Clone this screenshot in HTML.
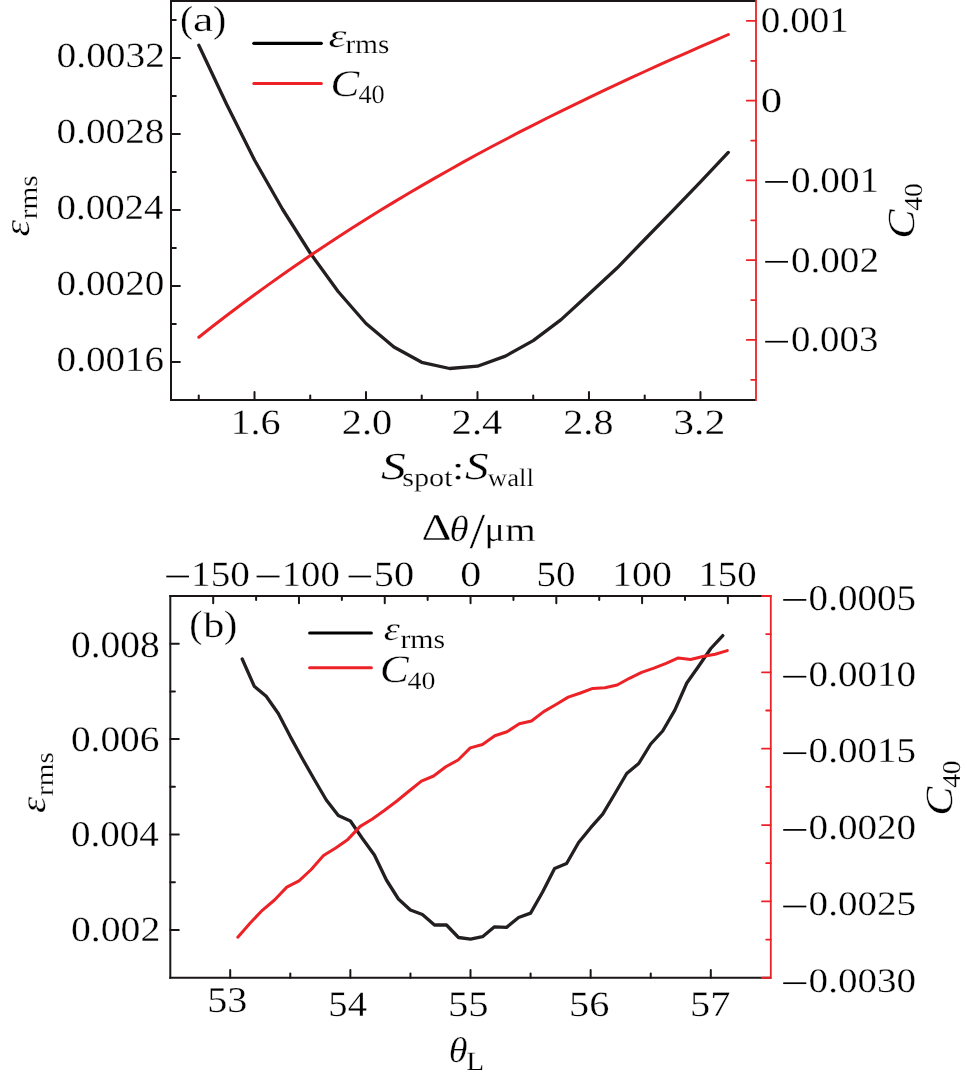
<!DOCTYPE html>
<html><head><meta charset="utf-8"><style>
html,body{margin:0;padding:0;background:#fff;}
svg{display:block;will-change:transform;}
text{font-family:"Liberation Serif",serif;font-size:100px;font-kerning:none;text-rendering:geometricPrecision;stroke:#fff;stroke-width:0.8px;vector-effect:non-scaling-stroke;}
</style></head><body>
<svg width="967" height="1078" viewBox="0 0 967 1078">
<rect width="967" height="1078" fill="#fff"/>
<path d="M198.8 45.2 L226.6 104.3 L254.5 160.0 L282.4 209.0 L310.2 253.0 L338.1 291.5 L366.0 323.5 L393.9 347.0 L421.7 362.3 L449.6 368.5 L477.5 366.2 L505.4 356.1 L533.2 340.6 L561.1 319.6 L589.0 294.0 L616.8 268.3 L644.7 239.5 L672.6 210.8 L700.5 181.8 L728.3 152.4" fill="none" stroke="#231f20" stroke-width="3.30" stroke-linejoin="round" stroke-linecap="round"/>
<path d="M198.8 337.2 L212.7 326.2 L226.7 315.5 L240.6 305.0 L254.5 294.7 L268.5 284.6 L282.4 274.8 L296.4 265.1 L310.3 255.5 L324.2 246.2 L338.2 237.1 L352.1 228.1 L366.0 219.3 L380.0 210.6 L393.9 202.1 L407.9 193.8 L421.8 185.6 L435.7 177.6 L449.7 169.7 L463.6 161.9 L477.5 154.3 L491.5 146.8 L505.4 139.5 L519.3 132.2 L533.3 125.1 L547.2 118.0 L561.2 111.1 L575.1 104.3 L589.0 97.6 L603.0 90.9 L616.9 84.4 L630.8 77.9 L644.8 71.5 L658.7 65.2 L672.7 58.9 L686.6 52.8 L700.5 46.6 L714.5 40.6 L728.4 34.5" fill="none" stroke="#ec2227" stroke-width="3.00" stroke-linejoin="round" stroke-linecap="round"/>
<line x1="170.00" y1="400.10" x2="756.00" y2="400.10" stroke="#1a1617" stroke-width="2.00" stroke-linecap="butt"/>
<line x1="170.00" y1="0.95" x2="756.00" y2="0.95" stroke="#1a1617" stroke-width="1.90" stroke-linecap="butt"/>
<line x1="171.00" y1="0.00" x2="171.00" y2="401.10" stroke="#1a1617" stroke-width="2.00" stroke-linecap="butt"/>
<line x1="756.00" y1="0.00" x2="756.00" y2="401.10" stroke="#ec2227" stroke-width="1.80" stroke-linecap="butt"/>
<line x1="171.00" y1="57.95" x2="179.90" y2="57.95" stroke="#1a1617" stroke-width="2.00" stroke-linecap="round"/>
<line x1="171.00" y1="133.95" x2="179.90" y2="133.95" stroke="#1a1617" stroke-width="2.00" stroke-linecap="round"/>
<line x1="171.00" y1="209.95" x2="179.90" y2="209.95" stroke="#1a1617" stroke-width="2.00" stroke-linecap="round"/>
<line x1="171.00" y1="285.95" x2="179.90" y2="285.95" stroke="#1a1617" stroke-width="2.00" stroke-linecap="round"/>
<line x1="171.00" y1="361.95" x2="179.90" y2="361.95" stroke="#1a1617" stroke-width="2.00" stroke-linecap="round"/>
<line x1="171.00" y1="19.95" x2="175.80" y2="19.95" stroke="#1a1617" stroke-width="2.00" stroke-linecap="round"/>
<line x1="171.00" y1="95.95" x2="175.80" y2="95.95" stroke="#1a1617" stroke-width="2.00" stroke-linecap="round"/>
<line x1="171.00" y1="171.95" x2="175.80" y2="171.95" stroke="#1a1617" stroke-width="2.00" stroke-linecap="round"/>
<line x1="171.00" y1="247.95" x2="175.80" y2="247.95" stroke="#1a1617" stroke-width="2.00" stroke-linecap="round"/>
<line x1="171.00" y1="323.95" x2="175.80" y2="323.95" stroke="#1a1617" stroke-width="2.00" stroke-linecap="round"/>
<line x1="746.80" y1="20.94" x2="756.00" y2="20.94" stroke="#ec2227" stroke-width="1.80" stroke-linecap="round"/>
<line x1="746.80" y1="100.69" x2="756.00" y2="100.69" stroke="#ec2227" stroke-width="1.80" stroke-linecap="round"/>
<line x1="746.80" y1="180.44" x2="756.00" y2="180.44" stroke="#ec2227" stroke-width="1.80" stroke-linecap="round"/>
<line x1="746.80" y1="260.19" x2="756.00" y2="260.19" stroke="#ec2227" stroke-width="1.80" stroke-linecap="round"/>
<line x1="746.80" y1="339.94" x2="756.00" y2="339.94" stroke="#ec2227" stroke-width="1.80" stroke-linecap="round"/>
<line x1="751.20" y1="60.82" x2="756.00" y2="60.82" stroke="#ec2227" stroke-width="1.80" stroke-linecap="round"/>
<line x1="751.20" y1="140.57" x2="756.00" y2="140.57" stroke="#ec2227" stroke-width="1.80" stroke-linecap="round"/>
<line x1="751.20" y1="220.32" x2="756.00" y2="220.32" stroke="#ec2227" stroke-width="1.80" stroke-linecap="round"/>
<line x1="751.20" y1="300.07" x2="756.00" y2="300.07" stroke="#ec2227" stroke-width="1.80" stroke-linecap="round"/>
<line x1="751.20" y1="379.82" x2="756.00" y2="379.82" stroke="#ec2227" stroke-width="1.80" stroke-linecap="round"/>
<line x1="254.50" y1="400.10" x2="254.50" y2="392.10" stroke="#1a1617" stroke-width="2.00" stroke-linecap="round"/>
<line x1="365.99" y1="400.10" x2="365.99" y2="392.10" stroke="#1a1617" stroke-width="2.00" stroke-linecap="round"/>
<line x1="477.48" y1="400.10" x2="477.48" y2="392.10" stroke="#1a1617" stroke-width="2.00" stroke-linecap="round"/>
<line x1="588.97" y1="400.10" x2="588.97" y2="392.10" stroke="#1a1617" stroke-width="2.00" stroke-linecap="round"/>
<line x1="700.46" y1="400.10" x2="700.46" y2="392.10" stroke="#1a1617" stroke-width="2.00" stroke-linecap="round"/>
<line x1="198.75" y1="400.10" x2="198.75" y2="395.50" stroke="#1a1617" stroke-width="2.00" stroke-linecap="round"/>
<line x1="310.24" y1="400.10" x2="310.24" y2="395.50" stroke="#1a1617" stroke-width="2.00" stroke-linecap="round"/>
<line x1="421.73" y1="400.10" x2="421.73" y2="395.50" stroke="#1a1617" stroke-width="2.00" stroke-linecap="round"/>
<line x1="533.22" y1="400.10" x2="533.22" y2="395.50" stroke="#1a1617" stroke-width="2.00" stroke-linecap="round"/>
<line x1="644.71" y1="400.10" x2="644.71" y2="395.50" stroke="#1a1617" stroke-width="2.00" stroke-linecap="round"/>
<line x1="253.80" y1="43.30" x2="321.30" y2="43.30" stroke="#000" stroke-width="3.20" stroke-linecap="round"/>
<line x1="253.80" y1="83.40" x2="321.30" y2="83.40" stroke="#ec2227" stroke-width="3.00" stroke-linecap="round"/>
<text transform="matrix(0.3941 0.0000 0.0000 0.3534 56.5991 66.9996)">0.0032</text>
<text transform="matrix(0.3916 0.0000 0.0000 0.3534 56.6087 142.9996)">0.0028</text>
<text transform="matrix(0.3883 0.0000 0.0000 0.3534 56.6211 218.9996)">0.0024</text>
<text transform="matrix(0.3916 0.0000 0.0000 0.3534 56.6087 294.9996)">0.0020</text>
<text transform="matrix(0.3904 0.0000 0.0000 0.3534 56.6133 370.9996)">0.0016</text>
<text transform="matrix(0.3918 0.0000 0.0000 0.3592 760.8080 31.8913)">0.001</text>
<text transform="matrix(0.4271 0.0000 0.0000 0.3497 760.6735 111.9585)">0</text>
<text transform="matrix(0.3922 0.0000 0.0000 0.3592 790.9062 191.6913)">0.001</text>
<rect x="765.20" y="181.05" width="22.80" height="1.70" fill="#000"/>
<text transform="matrix(0.3913 0.0000 0.0000 0.3592 790.9096 271.5913)">0.002</text>
<rect x="765.20" y="260.95" width="22.80" height="1.70" fill="#000"/>
<text transform="matrix(0.3884 0.0000 0.0000 0.3592 790.9206 351.4913)">0.003</text>
<rect x="765.20" y="340.85" width="22.80" height="1.70" fill="#000"/>
<text transform="matrix(0.4009 0.0000 0.0000 0.3564 230.3761 434.2954)">1.6</text>
<text transform="matrix(0.4033 0.0000 0.0000 0.3548 341.7278 434.2976)">2.0</text>
<text transform="matrix(0.4057 0.0000 0.0000 0.3564 451.6170 434.2954)">2.4</text>
<text transform="matrix(0.4007 0.0000 0.0000 0.3548 563.3391 434.2976)">2.8</text>
<text transform="matrix(0.4159 0.0000 0.0000 0.3564 673.2100 434.2954)">3.2</text>
<text transform="matrix(0.3932 0.0000 0.0000 0.3794 180.0719 31.6233)">(</text>
<text transform="matrix(0.4607 0.0000 0.0000 0.3486 192.9802 31.2595)">a</text>
<text transform="matrix(0.3971 0.0000 0.0000 0.3794 213.1202 31.6233)">)</text>
<text transform="matrix(0.4548 0.0000 0.0000 0.3347 328.6229 46.7731)" font-style="italic">ε</text>
<text transform="matrix(0.2923 0.0000 0.0000 0.2661 345.5149 53.4401)">rms</text>
<text transform="matrix(0.4318 0.0000 0.0000 0.3753 330.4962 95.5518)" font-style="italic">C</text>
<text transform="matrix(0.2632 0.0000 0.0000 0.2623 358.3860 103.0438)">40</text>
<text transform="matrix(0.0000 -0.4225 0.3618 0.0000 29.1467 236.5078)" font-style="italic">ε</text>
<text transform="matrix(0.0000 -0.2923 0.2641 0.0000 36.5421 219.2851)">rms</text>
<text transform="matrix(0.0000 -0.4383 0.3828 0.0000 914.4449 238.7397)" font-style="italic">C</text>
<text transform="matrix(0.0000 -0.2780 0.2593 0.0000 922.1467 210.8430)">40</text>
<text transform="matrix(0.4977 0.0000 0.0000 0.3825 380.9168 479.2265)" font-style="italic">S</text>
<text transform="matrix(0.3024 0.0000 0.0000 0.2603 402.1595 485.8574)">spot</text>
<text transform="matrix(0.4589 0.0000 0.0000 0.3269 451.7701 478.7372)">:</text>
<text transform="matrix(0.4723 0.0000 0.0000 0.3825 465.0465 479.2265)" font-style="italic">S</text>
<text transform="matrix(0.2675 0.0000 0.0000 0.2530 487.8739 486.3529)">wall</text>
<path d="M242.2 659.0 L254.2 686.2 L266.2 696.2 L278.3 713.5 L290.3 736.6 L302.3 758.5 L314.3 779.5 L326.3 800.0 L338.3 815.5 L350.4 821.0 L362.4 838.5 L374.4 855.0 L386.4 880.0 L398.4 899.0 L410.4 910.0 L422.4 914.5 L434.5 925.0 L446.5 925.0 L458.5 937.5 L470.5 939.2 L482.5 936.7 L494.5 926.8 L506.5 927.4 L518.6 917.5 L530.6 913.1 L542.6 892.0 L554.6 868.5 L566.6 863.5 L578.6 842.5 L590.7 827.7 L602.7 814.2 L614.7 794.0 L626.7 773.5 L638.7 763.5 L650.7 744.0 L662.7 731.0 L674.8 710.2 L686.8 683.0 L698.8 666.0 L710.8 648.5 L722.8 635.6" fill="none" stroke="#231f20" stroke-width="3.30" stroke-linejoin="round" stroke-linecap="round"/>
<path d="M237.8 937.2 L250.0 923.2 L262.3 910.3 L274.5 900.0 L286.8 887.1 L299.0 880.8 L311.2 869.5 L323.5 855.5 L335.7 848.0 L347.9 839.4 L360.2 826.4 L372.4 819.0 L384.6 810.3 L396.9 801.0 L409.1 791.0 L421.4 781.1 L433.6 776.0 L445.8 766.7 L458.1 760.0 L470.3 747.9 L482.5 744.5 L494.8 735.8 L507.0 731.8 L519.3 723.7 L531.5 721.0 L543.7 711.6 L556.0 704.5 L568.2 697.1 L580.5 693.0 L592.7 688.4 L604.9 687.7 L617.2 685.0 L629.4 678.3 L641.6 672.3 L653.9 668.2 L666.1 663.4 L678.3 657.9 L690.6 659.5 L702.8 656.5 L715.1 654.2 L727.3 650.6" fill="none" stroke="#ec2227" stroke-width="3.00" stroke-linejoin="round" stroke-linecap="round"/>
<line x1="169.30" y1="596.00" x2="770.80" y2="596.00" stroke="#1a1617" stroke-width="2.00" stroke-linecap="butt"/>
<line x1="169.30" y1="977.75" x2="770.80" y2="977.75" stroke="#1a1617" stroke-width="2.00" stroke-linecap="butt"/>
<line x1="170.30" y1="595.00" x2="170.30" y2="978.75" stroke="#1a1617" stroke-width="2.00" stroke-linecap="butt"/>
<line x1="770.80" y1="595.00" x2="770.80" y2="978.75" stroke="#ec2227" stroke-width="1.80" stroke-linecap="butt"/>
<line x1="213.20" y1="596.00" x2="213.20" y2="603.30" stroke="#1a1617" stroke-width="2.00" stroke-linecap="round"/>
<line x1="298.98" y1="596.00" x2="298.98" y2="603.30" stroke="#1a1617" stroke-width="2.00" stroke-linecap="round"/>
<line x1="384.76" y1="596.00" x2="384.76" y2="603.30" stroke="#1a1617" stroke-width="2.00" stroke-linecap="round"/>
<line x1="470.54" y1="596.00" x2="470.54" y2="603.30" stroke="#1a1617" stroke-width="2.00" stroke-linecap="round"/>
<line x1="556.32" y1="596.00" x2="556.32" y2="603.30" stroke="#1a1617" stroke-width="2.00" stroke-linecap="round"/>
<line x1="642.10" y1="596.00" x2="642.10" y2="603.30" stroke="#1a1617" stroke-width="2.00" stroke-linecap="round"/>
<line x1="727.88" y1="596.00" x2="727.88" y2="603.30" stroke="#1a1617" stroke-width="2.00" stroke-linecap="round"/>
<line x1="256.10" y1="596.00" x2="256.10" y2="599.90" stroke="#1a1617" stroke-width="2.00" stroke-linecap="round"/>
<line x1="341.88" y1="596.00" x2="341.88" y2="599.90" stroke="#1a1617" stroke-width="2.00" stroke-linecap="round"/>
<line x1="427.66" y1="596.00" x2="427.66" y2="599.90" stroke="#1a1617" stroke-width="2.00" stroke-linecap="round"/>
<line x1="513.44" y1="596.00" x2="513.44" y2="599.90" stroke="#1a1617" stroke-width="2.00" stroke-linecap="round"/>
<line x1="599.22" y1="596.00" x2="599.22" y2="599.90" stroke="#1a1617" stroke-width="2.00" stroke-linecap="round"/>
<line x1="685.00" y1="596.00" x2="685.00" y2="599.90" stroke="#1a1617" stroke-width="2.00" stroke-linecap="round"/>
<line x1="230.20" y1="977.75" x2="230.20" y2="970.05" stroke="#1a1617" stroke-width="2.00" stroke-linecap="round"/>
<line x1="350.35" y1="977.75" x2="350.35" y2="970.05" stroke="#1a1617" stroke-width="2.00" stroke-linecap="round"/>
<line x1="470.50" y1="977.75" x2="470.50" y2="970.05" stroke="#1a1617" stroke-width="2.00" stroke-linecap="round"/>
<line x1="590.65" y1="977.75" x2="590.65" y2="970.05" stroke="#1a1617" stroke-width="2.00" stroke-linecap="round"/>
<line x1="710.80" y1="977.75" x2="710.80" y2="970.05" stroke="#1a1617" stroke-width="2.00" stroke-linecap="round"/>
<line x1="290.30" y1="977.75" x2="290.30" y2="973.45" stroke="#1a1617" stroke-width="2.00" stroke-linecap="round"/>
<line x1="410.45" y1="977.75" x2="410.45" y2="973.45" stroke="#1a1617" stroke-width="2.00" stroke-linecap="round"/>
<line x1="530.60" y1="977.75" x2="530.60" y2="973.45" stroke="#1a1617" stroke-width="2.00" stroke-linecap="round"/>
<line x1="650.75" y1="977.75" x2="650.75" y2="973.45" stroke="#1a1617" stroke-width="2.00" stroke-linecap="round"/>
<line x1="170.30" y1="643.70" x2="178.80" y2="643.70" stroke="#1a1617" stroke-width="2.00" stroke-linecap="round"/>
<line x1="170.30" y1="739.10" x2="178.80" y2="739.10" stroke="#1a1617" stroke-width="2.00" stroke-linecap="round"/>
<line x1="170.30" y1="834.50" x2="178.80" y2="834.50" stroke="#1a1617" stroke-width="2.00" stroke-linecap="round"/>
<line x1="170.30" y1="929.90" x2="178.80" y2="929.90" stroke="#1a1617" stroke-width="2.00" stroke-linecap="round"/>
<line x1="170.30" y1="691.40" x2="174.90" y2="691.40" stroke="#1a1617" stroke-width="2.00" stroke-linecap="round"/>
<line x1="170.30" y1="786.80" x2="174.90" y2="786.80" stroke="#1a1617" stroke-width="2.00" stroke-linecap="round"/>
<line x1="170.30" y1="882.20" x2="174.90" y2="882.20" stroke="#1a1617" stroke-width="2.00" stroke-linecap="round"/>
<line x1="762.00" y1="596.00" x2="770.80" y2="596.00" stroke="#ec2227" stroke-width="2.00" stroke-linecap="round"/>
<line x1="762.00" y1="672.35" x2="770.80" y2="672.35" stroke="#ec2227" stroke-width="1.80" stroke-linecap="round"/>
<line x1="762.00" y1="748.70" x2="770.80" y2="748.70" stroke="#ec2227" stroke-width="1.80" stroke-linecap="round"/>
<line x1="762.00" y1="825.05" x2="770.80" y2="825.05" stroke="#ec2227" stroke-width="1.80" stroke-linecap="round"/>
<line x1="762.00" y1="901.40" x2="770.80" y2="901.40" stroke="#ec2227" stroke-width="1.80" stroke-linecap="round"/>
<line x1="762.00" y1="977.75" x2="770.80" y2="977.75" stroke="#ec2227" stroke-width="2.00" stroke-linecap="round"/>
<line x1="766.20" y1="634.17" x2="770.80" y2="634.17" stroke="#ec2227" stroke-width="1.80" stroke-linecap="round"/>
<line x1="766.20" y1="710.52" x2="770.80" y2="710.52" stroke="#ec2227" stroke-width="1.80" stroke-linecap="round"/>
<line x1="766.20" y1="786.87" x2="770.80" y2="786.87" stroke="#ec2227" stroke-width="1.80" stroke-linecap="round"/>
<line x1="766.20" y1="863.22" x2="770.80" y2="863.22" stroke="#ec2227" stroke-width="1.80" stroke-linecap="round"/>
<line x1="766.20" y1="939.57" x2="770.80" y2="939.57" stroke="#ec2227" stroke-width="1.80" stroke-linecap="round"/>
<line x1="309.60" y1="633.00" x2="371.40" y2="633.00" stroke="#000" stroke-width="3.00" stroke-linecap="round"/>
<line x1="309.60" y1="667.70" x2="371.40" y2="667.70" stroke="#ec2227" stroke-width="3.00" stroke-linecap="round"/>
<text transform="matrix(0.4671 0.0000 0.0000 0.3787 421.4212 540.3000)">Δ</text>
<text transform="matrix(0.3915 0.0000 0.0000 0.3639 449.4886 540.7446)" font-style="italic">θ</text>
<text transform="matrix(0.5651 0.0000 0.0000 0.5053 469.5000 547.8066)">/</text>
<text transform="matrix(0.3792 0.0000 0.0000 0.3507 484.5267 540.7987)">μ</text>
<text transform="matrix(0.3913 0.0000 0.0000 0.3374 505.2785 540.6000)">m</text>
<text transform="matrix(0.3916 0.0000 0.0000 0.3542 191.0586 586.4541)">150</text>
<text transform="matrix(0.3872 0.0000 0.0000 0.3542 281.6970 586.4541)">100</text>
<text transform="matrix(0.4038 0.0000 0.0000 0.3542 373.7534 586.4541)">50</text>
<text transform="matrix(0.4200 0.0000 0.0000 0.3542 460.2005 586.4541)">0</text>
<text transform="matrix(0.3895 0.0000 0.0000 0.3542 536.5370 586.4541)">50</text>
<text transform="matrix(0.3974 0.0000 0.0000 0.3542 612.2075 586.4541)">100</text>
<text transform="matrix(0.3879 0.0000 0.0000 0.3542 698.3906 586.4541)">150</text>
<rect x="166.30" y="575.65" width="22.70" height="1.70" fill="#000"/>
<rect x="256.60" y="575.65" width="22.90" height="1.70" fill="#000"/>
<rect x="348.60" y="575.65" width="22.50" height="1.70" fill="#000"/>
<text transform="matrix(0.3971 0.0000 0.0000 0.3860 189.1548 637.0824)">(</text>
<text transform="matrix(0.4222 0.0000 0.0000 0.3567 203.3000 637.2516)">b</text>
<text transform="matrix(0.4088 0.0000 0.0000 0.3860 223.6825 637.0824)">)</text>
<text transform="matrix(0.4091 0.0000 0.0000 0.3327 383.8212 639.7751)" font-style="italic">ε</text>
<text transform="matrix(0.2985 0.0000 0.0000 0.2661 400.4024 647.5401)">rms</text>
<text transform="matrix(0.4318 0.0000 0.0000 0.3887 379.9962 681.6393)" font-style="italic">C</text>
<text transform="matrix(0.2791 0.0000 0.0000 0.2475 407.4549 688.6583)">40</text>
<text transform="matrix(0.3947 0.0000 0.0000 0.3710 70.8968 657.0746)">0.008</text>
<text transform="matrix(0.3932 0.0000 0.0000 0.3563 70.9025 751.4955)">0.006</text>
<text transform="matrix(0.3907 0.0000 0.0000 0.3622 70.9121 846.4871)">0.004</text>
<text transform="matrix(0.3978 0.0000 0.0000 0.3534 70.8849 941.2996)">0.002</text>
<text transform="matrix(0.3910 0.0000 0.0000 0.3622 808.6110 609.6871)">0.0005</text>
<rect x="783.20" y="599.05" width="23.10" height="1.70" fill="#000"/>
<text transform="matrix(0.3908 0.0000 0.0000 0.3563 808.6115 686.0955)">0.0010</text>
<rect x="783.20" y="675.85" width="23.10" height="1.70" fill="#000"/>
<text transform="matrix(0.3910 0.0000 0.0000 0.3504 808.6110 762.2038)">0.0015</text>
<rect x="783.20" y="752.35" width="23.10" height="1.70" fill="#000"/>
<text transform="matrix(0.3908 0.0000 0.0000 0.3534 808.6115 839.0996)">0.0020</text>
<rect x="783.20" y="829.05" width="23.10" height="1.70" fill="#000"/>
<text transform="matrix(0.3910 0.0000 0.0000 0.3431 808.6110 915.0142)">0.0025</text>
<rect x="783.20" y="905.65" width="23.10" height="1.70" fill="#000"/>
<text transform="matrix(0.3908 0.0000 0.0000 0.3431 808.6115 991.7142)">0.0030</text>
<rect x="783.20" y="982.35" width="23.10" height="1.70" fill="#000"/>
<text transform="matrix(0.4010 0.0000 0.0000 0.3632 207.2702 1011.8453)">53</text>
<text transform="matrix(0.3854 0.0000 0.0000 0.3578 328.3605 1015.6506)">54</text>
<text transform="matrix(0.4076 0.0000 0.0000 0.3596 447.9316 1015.9488)">55</text>
<text transform="matrix(0.4035 0.0000 0.0000 0.3557 568.9557 1015.9526)">56</text>
<text transform="matrix(0.4041 0.0000 0.0000 0.3596 689.9518 1015.9488)">57</text>
<text transform="matrix(0.3819 0.0000 0.0000 0.3583 448.7352 1062.4501)" font-style="italic">θ</text>
<text transform="matrix(0.2931 0.0000 0.0000 0.2642 466.1556 1070.4000)">L</text>
<text transform="matrix(0.0000 -0.4118 0.3555 0.0000 45.4528 813.0846)" font-style="italic">ε</text>
<text transform="matrix(0.0000 -0.2923 0.2557 0.0000 53.2503 796.0851)">rms</text>
<text transform="matrix(0.0000 -0.4367 0.3843 0.0000 951.9435 815.6307)" font-style="italic">C</text>
<text transform="matrix(0.0000 -0.2738 0.2579 0.0000 959.5482 787.8347)">40</text>
</svg>
</body></html>
